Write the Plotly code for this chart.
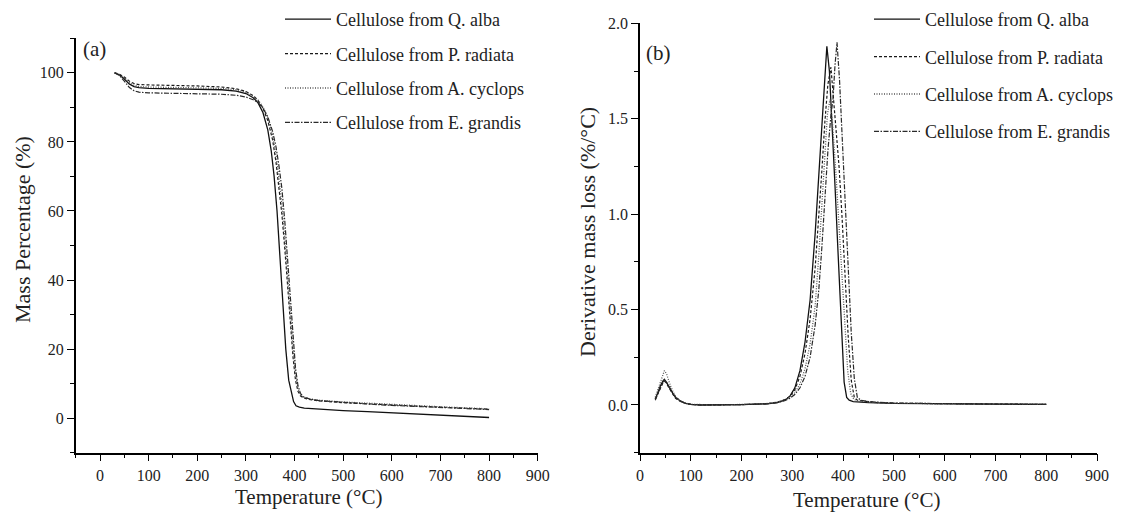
import plotly.graph_objects as go

FONT = "Liberation Serif"
OFF = 8            # page body margin of the viewer
W, H = 1115, 505   # figure size so that the page fits the 1123x513 window

series_names = ["Cellulose from Q. alba", "Cellulose from P. radiata",
                "Cellulose from A. cyclops", "Cellulose from E. grandis"]

# ---------------- TGA (panel a) ----------------
tga_T_qalba = [30, 40, 50, 60, 70, 80, 100, 150, 200, 250, 280, 300, 315, 325, 335, 345,
               352, 358, 364, 370, 376, 382, 388, 393, 398, 403, 410, 420, 450, 500, 550,
               600, 650, 700, 750, 800]
tga_M_qalba = [100, 99.4, 98.2, 96.8, 96.0, 95.7, 95.5, 95.4, 95.3, 95.1, 94.7, 94.0, 92.8,
               91.3, 88.5, 83.5, 77.5, 70, 60, 47, 34.5, 20, 11, 7.5, 4.8, 3.6, 3.2, 2.9,
               2.6, 2.2, 1.9, 1.6, 1.25, 0.9, 0.55, 0.2]

tga_T_other = [30, 40, 50, 60, 70, 80, 100, 150, 200, 250, 280, 300, 315, 325, 335, 345,
               355, 362, 368, 374, 380, 386, 392, 397, 402, 407, 412, 418, 430, 450, 500,
               550, 600, 650, 700, 750, 800]
tga_M_pradiata = [100, 99.6, 98.8, 97.6, 96.9, 96.6, 96.5, 96.4, 96.2, 95.9, 95.4, 94.6,
                  93.4, 92.0, 89.8, 86.2, 80.5, 74, 67, 59, 49, 37.5, 26, 17.5, 11, 7.8,
                  6.5, 5.9, 5.4, 5.0, 4.5, 4.1, 3.8, 3.5, 3.2, 2.9, 2.6]
tga_M_acyclops = [100, 99.5, 98.5, 97.2, 96.4, 96.0, 95.9, 95.8, 95.7, 95.5, 95.1, 94.4,
                  93.3, 92.1, 90.2, 87.0, 82, 76, 69.5, 62, 52, 40.5, 29, 20, 13, 8.6,
                  6.9, 6.1, 5.6, 5.2, 4.7, 4.3, 3.9, 3.6, 3.3, 3.0, 2.7]
tga_M_egrandis = [100, 99.2, 97.6, 95.8, 94.8, 94.4, 94.2, 94.1, 94.0, 93.8, 93.5, 93.0,
                  92.2, 91.4, 89.8, 87.3, 83, 78.5, 73, 66.5, 57, 45, 32.5, 22.5, 14.5,
                  9.5, 7.2, 6.2, 5.6, 5.1, 4.5, 4.1, 3.7, 3.4, 3.1, 2.8, 2.5]

# ---------------- DTG (panel b) ----------------
dtg_T_qalba = [30, 35, 40, 45, 48, 52, 56, 60, 65, 70, 80, 90, 100, 120, 150, 200, 250,
               270, 285, 295, 305, 315, 325, 335, 345, 352, 358, 363, 368, 373, 378, 384,
               390, 396, 402, 407, 412, 420, 450, 500, 600, 700, 800]
dtg_D_qalba = [0.03, 0.07, 0.1, 0.125, 0.135, 0.12, 0.1, 0.085, 0.06, 0.04, 0.02, 0.008,
               0.003, 0.0, 0.0, 0.002, 0.006, 0.012, 0.025, 0.045, 0.09, 0.18, 0.33, 0.55,
               0.9, 1.2, 1.5, 1.72, 1.88, 1.75, 1.5, 1.15, 0.8, 0.42, 0.12, 0.04, 0.025,
               0.018, 0.012, 0.008, 0.005, 0.004, 0.003]

dtg_T_pradiata = [30, 35, 40, 45, 48, 52, 56, 60, 65, 70, 80, 90, 100, 120, 150, 200, 250,
                  270, 285, 295, 305, 315, 325, 335, 345, 352, 358, 364, 370, 376, 381,
                  386, 392, 398, 404, 410, 416, 422, 428, 440, 460, 500, 600, 700, 800]
dtg_D_pradiata = [0.03, 0.06, 0.09, 0.115, 0.125, 0.115, 0.095, 0.08, 0.055, 0.035, 0.018,
                  0.008, 0.003, 0.0, 0.0, 0.002, 0.007, 0.014, 0.028, 0.045, 0.08, 0.15,
                  0.27, 0.45, 0.72, 0.98, 1.22, 1.48, 1.68, 1.77, 1.62, 1.45, 1.25, 0.98,
                  0.66, 0.36, 0.13, 0.04, 0.025, 0.02, 0.014, 0.009, 0.006, 0.004, 0.003]

dtg_T_acyclops = [30, 35, 40, 45, 48, 52, 56, 60, 65, 70, 80, 90, 100, 120, 150, 200, 250,
                  270, 285, 295, 305, 315, 325, 335, 345, 352, 358, 364, 369, 374, 379,
                  385, 391, 397, 403, 409, 415, 421, 427, 440, 460, 500, 600, 700, 800]
dtg_D_acyclops = [0.04, 0.08, 0.12, 0.16, 0.18, 0.165, 0.13, 0.1, 0.07, 0.045, 0.02, 0.009,
                  0.004, 0.001, 0.0, 0.003, 0.008, 0.015, 0.027, 0.04, 0.065, 0.11, 0.19,
                  0.32, 0.52, 0.78, 1.05, 1.33, 1.52, 1.6, 1.48, 1.25, 0.98, 0.68, 0.4,
                  0.18, 0.06, 0.03, 0.022, 0.018, 0.013, 0.009, 0.006, 0.004, 0.003]

dtg_T_egrandis = [30, 35, 40, 45, 48, 52, 56, 60, 65, 70, 80, 90, 100, 120, 150, 200, 250,
                  270, 285, 295, 305, 315, 325, 335, 345, 352, 358, 364, 370, 376, 380,
                  384, 388, 393, 398, 404, 410, 416, 422, 428, 435, 450, 500, 600, 700, 800]
dtg_D_egrandis = [0.025, 0.06, 0.09, 0.12, 0.13, 0.12, 0.1, 0.085, 0.06, 0.04, 0.02, 0.008,
                  0.003, 0.0, 0.0, 0.002, 0.006, 0.012, 0.022, 0.035, 0.055, 0.09, 0.15,
                  0.25, 0.42, 0.6, 0.82, 1.08, 1.33, 1.52, 1.6, 1.78, 1.9, 1.7, 1.42, 1.05,
                  0.7, 0.38, 0.14, 0.04, 0.025, 0.018, 0.01, 0.006, 0.004, 0.003]

x_ticks_a = [0, 100, 200, 300, 400, 500, 600, 700, 800, 900]
y_ticks_a = [0, 20, 40, 60, 80, 100]
y_ticks_b = [0.0, 0.5, 1.0, 1.5, 2.0]

tga_x = [tga_T_qalba, tga_T_other, tga_T_other, tga_T_other]
tga_y = [tga_M_qalba, tga_M_pradiata, tga_M_acyclops, tga_M_egrandis]
dtg_x = [dtg_T_qalba, dtg_T_pradiata, dtg_T_acyclops, dtg_T_egrandis]
dtg_y = [dtg_D_qalba, dtg_D_pradiata, dtg_D_acyclops, dtg_D_egrandis]

styles = [
    dict(color="#111111", width=1.3, dash="solid"),
    dict(color="#1a1a1a", width=1.2, dash="3px,2px"),
    dict(color="#555555", width=1.3, dash="1px,1.5px"),
    dict(color="#2a2a2a", width=1.2, dash="5px,1.5px,1.5px,1.5px"),
]

fig = go.Figure()
for i, name in enumerate(series_names):
    fig.add_trace(go.Scatter(x=tga_x[i], y=tga_y[i], mode="lines", name=name,
                             line=styles[i], xaxis="x", yaxis="y",
                             legend="legend", legendgroup=f"a{i}"))
for i, name in enumerate(series_names):
    fig.add_trace(go.Scatter(x=dtg_x[i], y=dtg_y[i], mode="lines", name=name,
                             line=styles[i], xaxis="x2", yaxis="y2",
                             legend="legend2", legendgroup=f"b{i}"))

def px_x(p):
    return (p - OFF) / W

def px_y(p):
    return 1 - (p - OFF) / H

axis_common = dict(showline=True, linecolor="black", linewidth=1.5, ticks="outside",
                   ticklen=7, tickwidth=1.3, tickcolor="black", showgrid=False,
                   zeroline=False, mirror=False, automargin=False,
                   tickfont=dict(family=FONT, size=16, color="#222"))

fig.update_layout(
    width=W, height=H, margin=dict(l=0, r=0, t=0, b=0, autoexpand=False),
    paper_bgcolor="white", plot_bgcolor="white",
    font=dict(family=FONT, color="#222"),
    xaxis=dict(domain=[px_x(75.7), px_x(537.7)], range=[-50, 900], anchor="y",
               tickmode="array", tickvals=x_ticks_a,
               minor=dict(dtick=50, tick0=0, ticks="outside", ticklen=4,
                          tickcolor="black", showgrid=False),
               **axis_common),
    yaxis=dict(domain=[px_y(452.7), px_y(38.3)], range=[-10, 110], anchor="x",
               tickmode="array", tickvals=y_ticks_a,
               minor=dict(dtick=10, tick0=0, ticks="outside", ticklen=4,
                          tickcolor="black", showgrid=False),
               **axis_common),
    xaxis2=dict(domain=[px_x(640), px_x(1097)], range=[0, 900], anchor="y2",
                tickmode="array", tickvals=x_ticks_a,
                minor=dict(dtick=50, tick0=0, ticks="outside", ticklen=4,
                           tickcolor="black", showgrid=False),
                **axis_common),
    yaxis2=dict(domain=[px_y(452.7), px_y(23.3)], range=[-0.25, 2.0], anchor="x2",
                tickmode="array", tickvals=y_ticks_b, tickformat=".1f",
                minor=dict(dtick=0.25, tick0=0, ticks="outside", ticklen=4,
                           tickcolor="black", showgrid=False),
                **axis_common),
    legend=dict(x=px_x(280), y=1 + 7 / H, xanchor="left", yanchor="top",
                bgcolor="rgba(0,0,0,0)", borderwidth=0, itemwidth=46,
                tracegroupgap=8, font=dict(family=FONT, size=18, color="#222")),
    legend2=dict(x=px_x(869), y=1 + 7 / H, xanchor="left", yanchor="top",
                 bgcolor="rgba(0,0,0,0)", borderwidth=0, itemwidth=46,
                 tracegroupgap=11, font=dict(family=FONT, size=18, color="#222")),
    showlegend=True,
)

ann_font = dict(family=FONT, size=21, color="#222")
common_ann = dict(xref="paper", yref="paper", showarrow=False)
fig.add_annotation(text="Mass Percentage (%)", textangle=-90, x=px_x(23), y=px_y(230),
                   xanchor="center", yanchor="middle", font=dict(family=FONT, size=22, color="#222"),
                   **common_ann)
fig.add_annotation(text="Derivative mass loss (%/°C)", textangle=-90, x=px_x(588),
                   y=px_y(232), xanchor="center", yanchor="middle",
                   font=dict(family=FONT, size=22, color="#222"), **common_ann)
fig.add_annotation(text="Temperature (°C)", x=px_x(308), y=px_y(497),
                   xanchor="center", yanchor="middle", font=ann_font, **common_ann)
fig.add_annotation(text="Temperature (°C)", x=px_x(866), y=px_y(500),
                   xanchor="center", yanchor="middle", font=ann_font, **common_ann)
fig.add_annotation(text="(a)", x=px_x(81), y=px_y(49), xanchor="left", yanchor="middle",
                   font=dict(family=FONT, size=21, color="#222"), **common_ann)
fig.add_annotation(text="(b)", x=px_x(644), y=px_y(53), xanchor="left", yanchor="middle",
                   font=dict(family=FONT, size=21, color="#222"), **common_ann)

fig.write_html("out.html")
